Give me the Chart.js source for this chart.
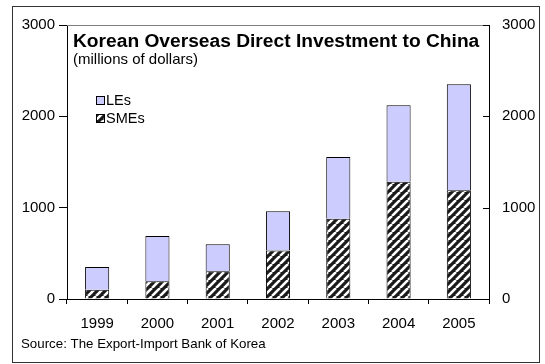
<!DOCTYPE html>
<html>
<head>
<meta charset="utf-8">
<script src="https://cdn.jsdelivr.net/npm/chart.js@4"></script>
<style>
  html, body { margin: 0; padding: 0; background: #fff; }
  #wrap { width: 545px; height: 364px; }
</style>
</head>
<body>
<div id="wrap"><canvas id="odiChart" width="545" height="364"></canvas></div>
<script>
(function () {
    // investment by firm size, millions of dollars
    const years = ['1999', '2000', '2001', '2002', '2003', '2004', '2005'];
    const smeValues = [100, 195, 305, 530, 880, 1285, 1190];
    const leValues = [250, 495, 295, 430, 675, 835, 1160];
    const yTicks = [0, 1000, 2000, 3000];

    const FONT = "'Liberation Sans', Arial, sans-serif";

    // black bars with white "/" stripes
    function stripePattern() {
        const size = 8;
        const c = document.createElement('canvas');
        c.width = size; c.height = size;
        const g = c.getContext('2d');
        g.fillStyle = '#1a1a1a';
        g.fillRect(0, 0, size, size);
        g.strokeStyle = '#ffffff';
        g.lineWidth = 2.6;
        [-size, 0, size].forEach(function (k) {
            g.beginPath();
            g.moveTo(k, size);
            g.lineTo(k + size, 0);
            g.stroke();
        });
        return g.createPattern(c, 'repeat');
    }

    const canvas = document.getElementById('odiChart');
    const smeFill = stripePattern();
    const leFill = '#ccccff';

    // frame, title, legend, source note and the inward right-axis ticks
    const decorations = {
        id: 'decorations',
        afterDraw: function (chart) {
            const ctx = chart.ctx;
            const area = chart.chartArea;
            ctx.save();

            ctx.strokeStyle = '#333';
            ctx.lineWidth = 1;
            ctx.strokeRect(12.5, 6.5, 527, 356);

            ctx.strokeStyle = '#808080';
            ctx.beginPath();
            ctx.moveTo(area.left, area.top + 0.5);
            ctx.lineTo(area.right, area.top + 0.5);
            ctx.stroke();

            const y2 = chart.scales.y2;
            ctx.strokeStyle = '#000';
            yTicks.forEach(function (v) {
                const py = Math.round(y2.getPixelForValue(v)) + 0.5;
                ctx.beginPath();
                ctx.moveTo(area.right - 6, py);
                ctx.lineTo(area.right, py);
                ctx.stroke();
            });

            ctx.fillStyle = '#000';
            ctx.textBaseline = 'alphabetic';
            ctx.textAlign = 'left';
            ctx.font = 'bold 19.2px ' + FONT;
            ctx.fillText('Korean Overseas Direct Investment to China', 73, 47);
            ctx.font = '15px ' + FONT;
            ctx.fillText('(millions of dollars)', 73, 64);

            const entries = [
                { label: 'LEs', fill: leFill },
                { label: 'SMEs', fill: smeFill }
            ];
            ctx.font = '14.5px ' + FONT;
            ctx.textBaseline = 'middle';
            entries.forEach(function (e, i) {
                const cy = 100 + i * 18;
                ctx.fillStyle = e.fill;
                ctx.fillRect(96, cy - 4, 9, 9);
                ctx.strokeStyle = '#000';
                ctx.strokeRect(96.5, cy - 3.5, 8, 8);
                ctx.fillStyle = '#000';
                ctx.fillText(e.label, 106, cy + 1);
            });

            ctx.font = '13.3px ' + FONT;
            ctx.fillText('Source: The Export-Import Bank of Korea', 21, 344);
            ctx.restore();
        }
    };

    const plainNumber = function (v) { return String(v); };

    new Chart(canvas, {
        type: 'bar',
        data: {
            labels: years,
            datasets: [
                {
                    label: 'SMEs',
                    data: smeValues,
                    backgroundColor: smeFill,
                    borderColor: '#000',
                    borderWidth: 1
                },
                {
                    label: 'LEs',
                    data: leValues,
                    backgroundColor: leFill,
                    borderColor: '#000',
                    borderWidth: 1
                }
            ]
        },
        options: {
            responsive: false,
            animation: false,
            devicePixelRatio: 1,
            layout: { padding: { top: 25, left: 0, right: 0, bottom: 0 } },
            datasets: { bar: { categoryPercentage: 1, barPercentage: 0.4 } },
            plugins: {
                legend: { display: false },
                tooltip: { enabled: false }
            },
            scales: {
                x: {
                    stacked: true,
                    grid: { offset: true, drawOnChartArea: false, tickLength: 5, color: '#000' },
                    border: { color: '#000' },
                    ticks: { color: '#000', font: { family: FONT, size: 15 }, padding: 11 },
                    afterFit: function (s) { s.height = 65; }
                },
                y: {
                    stacked: true,
                    min: 0,
                    max: 3000,
                    ticks: { stepSize: 1000, color: '#000', font: { family: FONT, size: 15 }, padding: 4, callback: plainNumber },
                    grid: { drawOnChartArea: false, tickLength: 8, color: '#000' },
                    border: { color: '#000' },
                    afterFit: function (s) { s.width = 67; }
                },
                y2: {
                    position: 'right',
                    min: 0,
                    max: 3000,
                    ticks: { stepSize: 1000, color: '#000', font: { family: FONT, size: 15 }, padding: 13, callback: plainNumber },
                    grid: { drawOnChartArea: false, drawTicks: false },
                    border: { color: '#000' },
                    afterFit: function (s) { s.width = 56; }
                }
            }
        },
        plugins: [decorations]
    });
})();
</script>
</body>
</html>
